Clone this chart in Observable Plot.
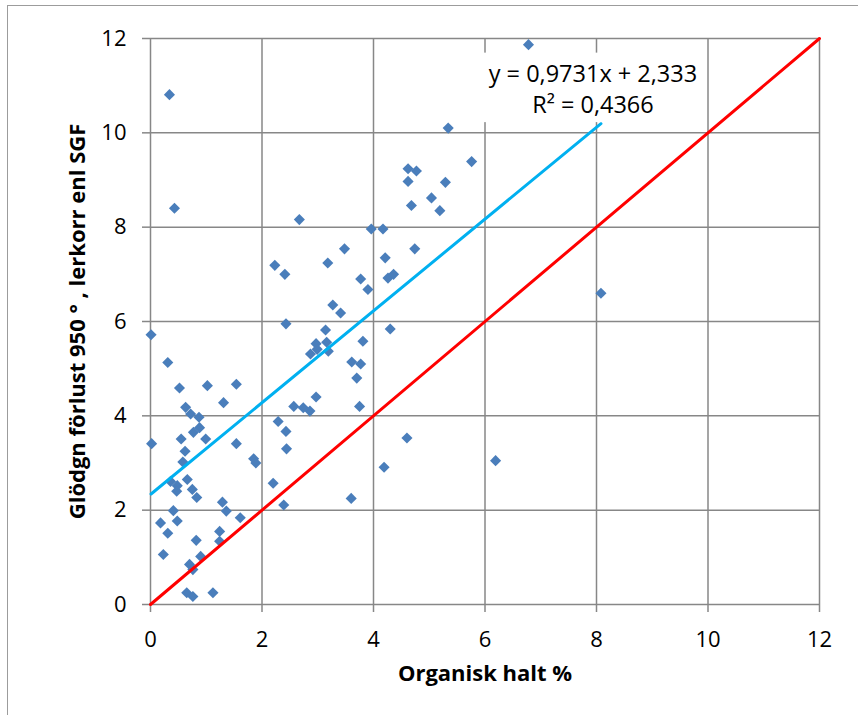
<!DOCTYPE html>
<html><head><meta charset="utf-8">
<script src="https://cdn.jsdelivr.net/npm/d3@7"></script>
<script src="https://cdn.jsdelivr.net/npm/@observablehq/plot@0.6"></script>
<style>
html,body{margin:0;padding:0;background:#fff;}
#wrap{position:relative;width:858px;height:715px;overflow:hidden;}
#frame{position:absolute;left:7px;top:5px;right:-10px;bottom:-10px;border-left:1.5px solid #9c9c9c;border-top:1.5px solid #9c9c9c;pointer-events:none;}
</style></head><body>
<div id="wrap"><div id="chart"></div><div id="frame"></div></div>
<script>
// Organisk halt % (x) and Glödgn förlust 950° lerkorr (y)
const organisk = [
  0.01,0.31,0.52,1.02,1.54,1.31,0.63,0.72,0.87,0.88,0.77,0.55,0.99,0.02,1.54,0.62,0.58,1.85,1.89,0.66,
  0.36,0.48,0.47,0.75,0.83,2.20,0.41,0.18,0.48,0.31,1.29,1.36,1.61,0.82,1.24,1.24,0.23,0.90,0.70,0.76,
  0.65,0.76,1.12,
  2.67,4.68,5.19,3.96,4.17,3.48,4.74,2.23,2.41,3.18,4.21,3.77,3.90,4.26,4.36,3.27,3.41,2.43,4.30,3.14,
  3.81,2.97,3.16,2.87,2.99,3.19,3.61,3.77,3.70,2.97,2.57,2.74,2.86,3.75,2.29,2.43,2.44,4.60,4.19,2.39,3.60,
  5.34,5.76,4.62,4.77,4.62,5.29,5.04,
  0.34,0.43,6.78,8.08,6.19
];
const glodgn = [
  5.72,5.13,4.59,4.64,4.67,4.28,4.18,4.04,3.97,3.75,3.65,3.51,3.51,3.41,3.41,3.25,3.02,3.09,3.00,2.65,
  2.61,2.52,2.40,2.44,2.27,2.57,1.99,1.73,1.77,1.51,2.17,1.98,1.84,1.36,1.55,1.34,1.06,1.02,0.85,0.74,
  0.25,0.17,0.25,
  8.16,8.46,8.35,7.96,7.96,7.54,7.54,7.19,7.00,7.24,7.35,6.90,6.68,6.92,7.00,6.35,6.18,5.95,5.84,5.82,
  5.58,5.53,5.56,5.31,5.41,5.37,5.14,5.10,4.80,4.40,4.20,4.17,4.10,4.20,3.88,3.67,3.30,3.53,2.91,2.11,2.25,
  10.10,9.39,9.24,9.19,8.97,8.95,8.62,
  10.81,8.40,11.87,6.60,3.05
];
const xTicks = [0, 2, 4, 6, 8, 10, 12];
const yTicks = [0, 2, 4, 6, 8, 10, 12];
const xTitle = "Organisk halt %";
const yTitle = "Glödgn förlust 950 ° , lerkorr enl SGF";
const trendSlope = 0.9731;
const trendIntercept = 2.333;
const eqLine1 = "y = 0,9731x + 2,333";
const eqLine2 = "R² = 0,4366";

const points = organisk.map((x, i) => ({x, y: glodgn[i]}));
const fit = x => trendSlope * x + trendIntercept;
const [xMin, xMax] = d3.extent(organisk);
const trend = [xMin, xMax].map(x => ({x, y: fit(x)}));
const identity = d3.extent(xTicks).map(v => ({x: v, y: v}));
const eqAnchor = [{x: xMax, y: fit(xMax)}];

const grid = "#878787";
const svg = Plot.plot({
  width: 858, height: 715,
  marginLeft: 150, marginRight: 39, marginTop: 38, marginBottom: 111,
  style: {background: "transparent", fontFamily: "'Open Sans', sans-serif", fontSize: "22px", color: "black", overflow: "visible"},
  x: {domain: d3.extent(xTicks), label: null},
  y: {domain: d3.extent(yTicks), label: null},
  marks: [
    Plot.gridX(xTicks, {stroke: grid, strokeOpacity: 1, strokeWidth: 1.5}),
    Plot.gridY(yTicks, {stroke: grid, strokeOpacity: 1, strokeWidth: 1.5}),
    Plot.axisX(xTicks, {tickSize: 8, tickFormat: () => "", stroke: grid, strokeWidth: 1.5, label: null}),
    Plot.axisY(yTicks, {tickSize: 8, tickFormat: () => "", stroke: grid, strokeWidth: 1.5, label: null}),
    Plot.axisX(xTicks, {tickSize: 0, tickPadding: 27, fill: "black", label: null}),
    Plot.axisY(yTicks, {tickSize: 0, tickPadding: 24, fill: "black", label: null}),
    Plot.dot(points, {x: "x", y: "y", symbol: "diamond2", r: 5, fill: "#4A7EBB", stroke: "none"}),
    Plot.line(identity, {x: "x", y: "y", stroke: "#FF0000", strokeWidth: 3}),
    Plot.line(trend, {x: "x", y: "y", stroke: "#00B0F0", strokeWidth: 3}),
    Plot.text([xTitle], {frameAnchor: "bottom", text: d => d, dy: 76, fontWeight: "bold", fill: "black"}),
    Plot.text([yTitle], {frameAnchor: "left", textAnchor: "middle", text: d => d, rotate: -90, dx: -73, fontWeight: "bold", fill: "black"}),
    Plot.text(eqAnchor, {x: "x", y: "y", text: () => eqLine1, dx: -8, dy: -49.5, fontSize: 23.5, fill: "black"}),
    Plot.text(eqAnchor, {x: "x", y: "y", text: () => eqLine2, dx: -8, dy: -18, fontSize: 23.5, fill: "black"})
  ]
});
document.getElementById("chart").appendChild(svg);

// white label box behind the equation (as in the spreadsheet chart)
const textGroups = svg.querySelectorAll('g[aria-label="text"]');
const eqGroups = [textGroups[textGroups.length - 2], textGroups[textGroups.length - 1]];
let x0 = Infinity, y0 = Infinity, x1 = -Infinity, y1 = -Infinity;
for (const g of eqGroups) {
  const b = g.getBBox();
  const m = g.transform.baseVal.consolidate();
  const tx = m ? m.matrix.e : 0, ty = m ? m.matrix.f : 0;
  x0 = Math.min(x0, b.x + tx); y0 = Math.min(y0, b.y + ty);
  x1 = Math.max(x1, b.x + b.width + tx); y1 = Math.max(y1, b.y + b.height + ty);
}
const rect = document.createElementNS("http://www.w3.org/2000/svg", "rect");
rect.setAttribute("x", x0 - 8); rect.setAttribute("y", y0 - 4);
rect.setAttribute("width", x1 - x0 + 16); rect.setAttribute("height", y1 - y0 + 6);
rect.setAttribute("fill", "white");
eqGroups[0].parentNode.insertBefore(rect, eqGroups[0]);
</script>
</body></html>
